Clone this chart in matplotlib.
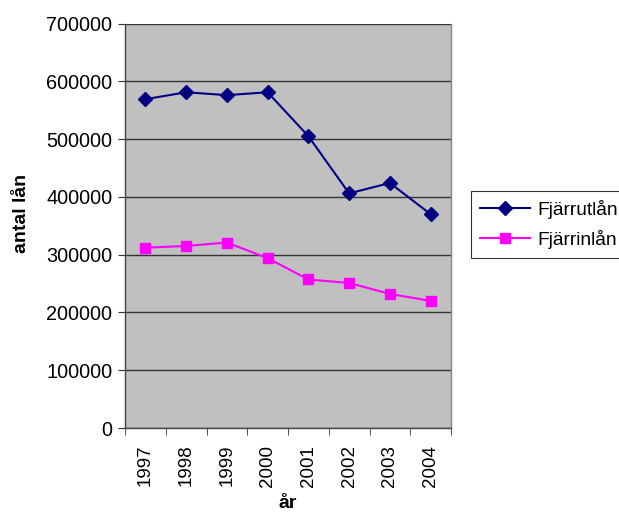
import matplotlib
matplotlib.use("Agg")
import matplotlib.pyplot as plt
import numpy as np

years = ["1997", "1998", "1999", "2000", "2001", "2002", "2003", "2004"]
fjarrutlan = [569000, 581000, 576000, 581000, 505000, 406000, 424000, 370000]
fjarrinlan = [312000, 315000, 321000, 294000, 257000, 251000, 232000, 220000]
yticks = [0, 100000, 200000, 300000, 400000, 500000, 600000, 700000]

plt.rcParams["font.family"] = ["Liberation Sans", "DejaVu Sans"]

fig = plt.figure(figsize=(6.19, 5.13), dpi=100)
ax = fig.add_axes([125/619, 1-428/513, (451-125)/619, (428-23.5)/513])
ax.set_facecolor("#C0C0C0")

x = np.arange(len(years))
ax.plot(x, fjarrutlan, color="#000080", marker="D", markersize=7, linewidth=1.5,
        label="Fjärrutlån", zorder=3)
ax.plot(x, fjarrinlan, color="#FF00FF", marker="s", markersize=7.5, linewidth=1.5,
        label="Fjärrinlån", zorder=3)

ax.set_xlim(-0.5, len(years) - 0.5)
ax.set_ylim(0, 700000)
ax.set_yticks(yticks)
ax.set_yticklabels([str(v) for v in yticks], fontsize=14.3)
ax.yaxis.grid(True, color="#333333", linewidth=1)
ax.set_axisbelow(True)

ax.set_xticks(x)
ax.set_xticklabels(years, rotation=90, fontsize=13.5)
ax.set_xticks(np.arange(len(years) + 1) - 0.5, minor=True)
ax.tick_params(axis="x", which="major", length=0, pad=12)
ax.tick_params(axis="x", which="minor", length=5, color="#333333")
ax.tick_params(axis="y", length=5, color="#333333", pad=4)

ax.spines["top"].set_visible(False)
for s in ["left", "bottom", "right"]:
    ax.spines[s].set_color("#444444")
    ax.spines[s].set_linewidth(1)
ax.spines["right"].set_color("#888888")

ax.set_ylabel("antal lån", fontsize=14, fontweight="bold", labelpad=12)
ax.yaxis.label.set_y(0.53)
ax.set_xlabel("år", fontsize=14, fontweight="bold", labelpad=6)

leg = fig.legend(loc="upper left", bbox_to_anchor=(471/619, 1-191/513),
                 fontsize=13.8, frameon=True, fancybox=False, edgecolor="black",
                 handlelength=2.65, borderpad=0.45, labelspacing=0.6,
                 handletextpad=0.35, borderaxespad=0)
leg.get_frame().set_linewidth(0.8)

fig.savefig("out.png", dpi=100, facecolor="white")
